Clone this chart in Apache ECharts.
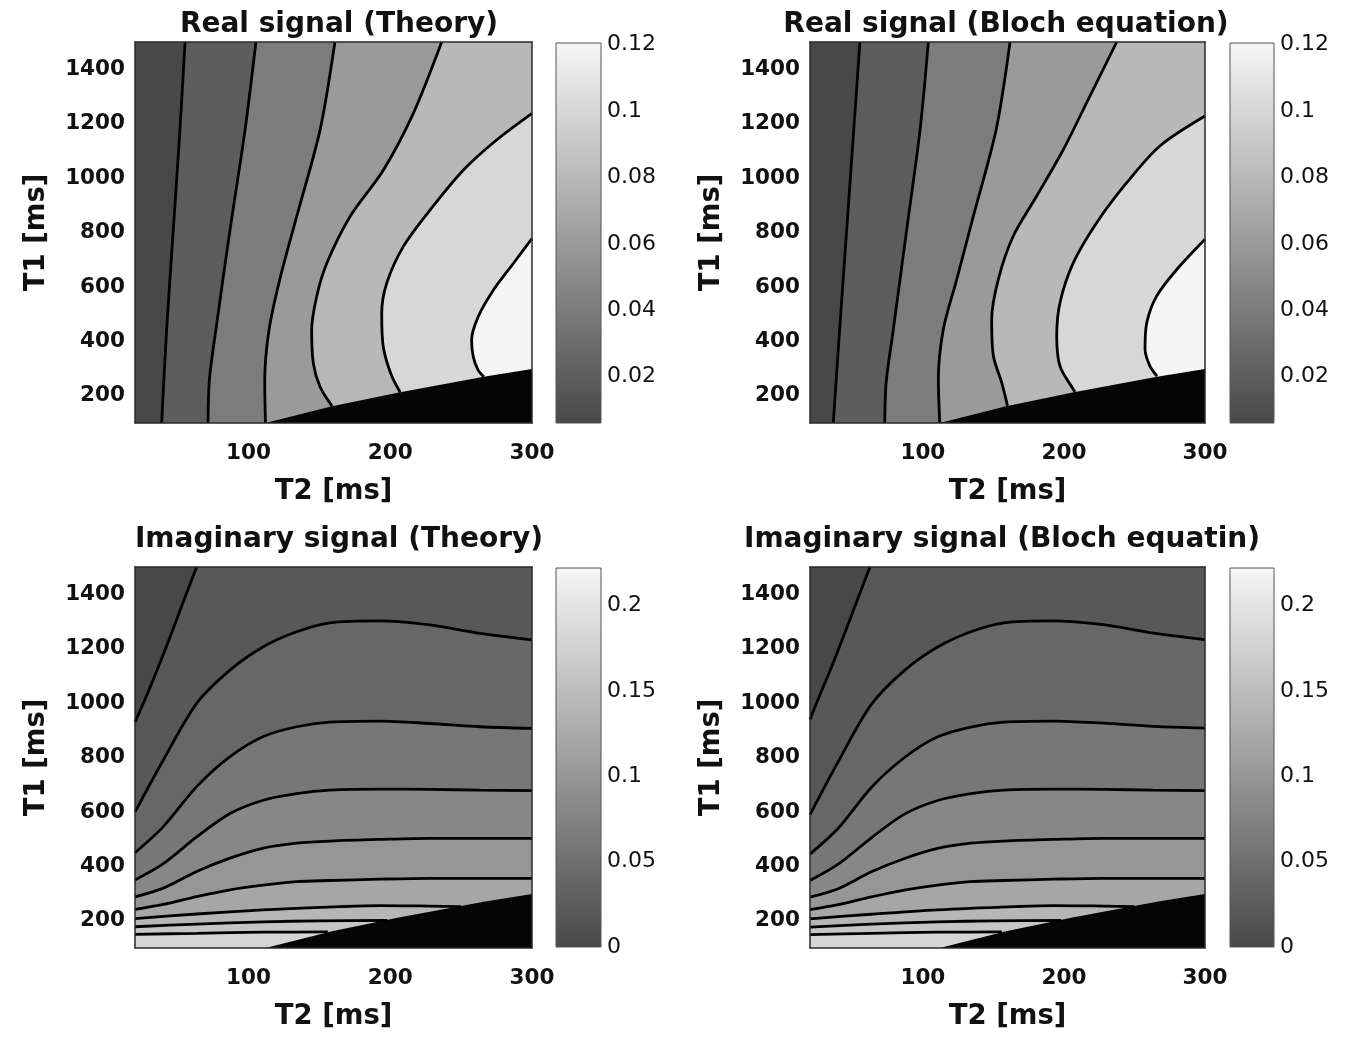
<!DOCTYPE html>
<html><head><meta charset="utf-8">
<script src="https://cdn.jsdelivr.net/npm/echarts@6/dist/echarts.min.js"></script>
<style>html,body{margin:0;padding:0;background:#fff}#c{width:1353px;height:1037px}</style>
</head><body><div id="c"></div>
<script>
// ---------- axes, ticks, colour bar ranges ----------
const t2Range = [20, 300];
const t1Range = [100, 1500];
const t2Ticks = [100, 200, 300];
const t1Ticks = [200, 400, 600, 800, 1000, 1200, 1400];
const realBarRange = [0.006, 0.1205];
const realBarTicks = [0.02, 0.04, 0.06, 0.08, 0.1, 0.12];
const realLevels = [0.02, 0.04, 0.06, 0.08, 0.1, 0.12];
const imagBarRange = [0, 0.222];
const imagBarTicks = [0, 0.05, 0.1, 0.15, 0.2];
const imagLevels = [0.02, 0.04, 0.06, 0.08, 0.1, 0.12, 0.14, 0.16, 0.18];
const panelTitles = ['Real signal (Theory)', 'Real signal (Bloch equation)', 'Imaginary signal (Theory)', 'Imaginary signal (Bloch equatin)'];

// region where T1 < T2 (drawn black), [T2, T1]
const invalidWedge = [[112,100],[159,162],[207,213],[267,271],[300,298],[300,100]];

// ---------- Real signal (Theory) contour lines, [T2, T1] ----------
const realTheoryC1 = [[55.3,1500],[51.7,1176],[47,809],[42.3,441],[38.8,100]];
const realTheoryC2 = [[105.3,1500],[97.6,1176],[87,809],[77,441],[72.5,260],[71.5,100]];
const realTheoryC3 = [[161,1500],[150.5,1176],[134,858],[122,625],[114.5,441],[111.5,257],[112,100]];
const realTheoryC4 = [[236.3,1500],[216.3,1238],[195.1,1029],[171.6,858],[155.2,686],[148.1,564],[144.6,441],[145.8,319],[150.5,233],[159,162]];
const realTheoryC5 = [[300,1238],[275,1140],[251.5,1029],[228,882],[209.2,748],[197.5,613],[194,502],[195.1,380],[200.5,280],[207,213]];
const realTheoryC6 = [[300,778],[286.8,686],[272.7,588],[262,490],[257.4,404],[258.6,343],[262,294],[266,270]];

// ---------- Real signal (Bloch equation) contour lines ----------
const realBlochC1 = [[55.4,1500],[51,1176],[46,809],[41,441],[36.5,100]];
const realBlochC2 = [[103.9,1500],[98,1176],[88.5,809],[79,441],[74,250],[73,100]];
const realBlochC3 = [[161.8,1500],[152,1179],[135.8,860],[124,627],[114.5,444],[111,260],[112,100]];
const realBlochC4 = [[237.4,1500],[218.5,1302],[199.6,1105],[180.7,934],[164.1,787],[153.5,628],[148.8,480],[150,346],[155.9,248],[160,163]];
const realBlochC5 = [[300,1228],[268,1118],[244.5,983],[223.2,836],[206.7,689],[197.2,542],[194.9,419],[197.2,309],[206.7,223],[208,214]];
const realBlochC6 = [[300,775],[280,664],[265.7,566],[258.7,468],[257.5,370],[261,309],[266,272]];

// ---------- Imaginary signal (Theory) contour lines ----------
const imagTheoryA = [[63.5,1500],[55,1385],[46,1260],[37,1140],[28,1025],[20,930]];
const imagTheoryB = [[20,600],[40,791],[63.5,999],[87,1121],[110.5,1207],[134,1262],[157.5,1295],[192.8,1302],[228,1287],[263.4,1256],[300,1232]];
const imagTheoryC = [[20,450],[40,546],[63.5,693],[87,803],[110.5,877],[134,913],[157.5,930],[192.8,934],[228,925],[263.4,913],[300,907]];
const imagTheoryD = [[20,350],[40,410],[63.5,508],[87,594],[110.5,643],[134,667],[157.5,680],[192.8,684],[228,683],[263.4,680],[300,678]];
const imagTheoryE = [[20,288],[40,320],[63.5,381],[87,430],[110.5,467],[134,485],[157.5,493],[192.8,499],[228,503],[300,503]];
const imagTheoryF = [[20,242],[40,260],[63.5,289],[87,314],[110.5,331],[134,344],[157.5,348],[192.8,353],[228,356],[300,356]];
const imagTheoryG = [[20,208],[63.5,225],[110.5,240],[165,252],[193,256],[228,254],[250,252]];
const imagTheoryH = [[20,178],[63.5,188],[110.5,196],[150,200],[198,201]];
const imagTheoryI = [[20,150],[63.5,154],[110.5,158],[156,159]];

// ---------- Imaginary signal (Bloch equation) contour lines ----------
const imagBlochA = [[62.5,1500],[54,1385],[45,1262],[36,1142],[27,1030],[20,940]];
const imagBlochB = [[20,590],[40,785],[63.5,995],[87,1120],[110.5,1206],[134,1262],[157.5,1295],[192.8,1302],[228,1288],[263.4,1257],[300,1233]];
const imagBlochC = [[20,445],[40,540],[63.5,690],[87,800],[110.5,876],[134,912],[157.5,930],[192.8,934],[228,926],[263.4,914],[300,908]];
const imagBlochD = [[20,348],[40,408],[63.5,505],[87,592],[110.5,642],[134,667],[157.5,680],[192.8,684],[228,683],[263.4,680],[300,678]];
const imagBlochE = [[20,287],[40,318],[63.5,380],[87,429],[110.5,466],[134,485],[157.5,493],[192.8,499],[228,503],[300,503]];
const imagBlochF = [[20,241],[40,259],[63.5,288],[87,313],[110.5,331],[134,344],[157.5,348],[192.8,353],[228,356],[300,356]];
const imagBlochG = [[20,207],[63.5,224],[110.5,240],[165,252],[193,256],[228,254],[250,252]];
const imagBlochH = [[20,177],[63.5,188],[110.5,196],[150,200],[198,201]];
const imagBlochI = [[20,149],[63.5,154],[110.5,158],[156,159]];

// ---------- styling helpers ----------
const FONT = 'DejaVu Sans';
function gray(v, r) {
  let t = (v - r[0]) / (r[1] - r[0]);
  t = Math.max(0, Math.min(1, t));
  const g = Math.round(72 + (246 - 72) * t);
  return 'rgb(' + g + ',' + g + ',' + g + ')';
}
const plotRect = [[t2Range[0], t1Range[0]], [t2Range[0], t1Range[1]], [t2Range[1], t1Range[1]], [t2Range[1], t1Range[0]]];

function realFills(lines) {
  const f = [{ pts: plotRect, color: gray(realBarRange[0], realBarRange) }];
  lines.forEach((c, k) => f.push({ pts: c.concat([[t2Range[1], t1Range[0]], [t2Range[1], t1Range[1]]]), color: gray(realLevels[k], realBarRange) }));
  f.push({ pts: invalidWedge, color: '#050505' });
  return f;
}
function imagFills(lines) {
  const f = [{ pts: plotRect, color: gray(imagLevels[0], imagBarRange) }];
  f.push({ pts: lines[0].concat([[t2Range[0], t1Range[1]]]), color: gray(imagBarRange[0], imagBarRange) });
  for (let k = 1; k < lines.length; k++) {
    f.push({ pts: lines[k].concat([[t2Range[1], t1Range[0]], [t2Range[0], t1Range[0]]]), color: gray(imagLevels[k], imagBarRange) });
  }
  f.push({ pts: invalidWedge, color: '#050505' });
  return f;
}

const panels = [
  { grid: { left: 135, top: 42, width: 397, height: 381 }, bar: { left: 556, top: 43, width: 45, height: 380 },
    titleX: 334, titleTop: 6, lines: [realTheoryC1, realTheoryC2, realTheoryC3, realTheoryC4, realTheoryC5, realTheoryC6],
    kind: 'real' },
  { grid: { left: 810, top: 42, width: 395, height: 381 }, bar: { left: 1230, top: 43, width: 44, height: 380 },
    titleX: 1001, titleTop: 6, lines: [realBlochC1, realBlochC2, realBlochC3, realBlochC4, realBlochC5, realBlochC6],
    kind: 'real' },
  { grid: { left: 135, top: 567, width: 397, height: 381 }, bar: { left: 556, top: 568, width: 45, height: 379 },
    titleX: 334, titleTop: 521, lines: [imagTheoryA, imagTheoryB, imagTheoryC, imagTheoryD, imagTheoryE, imagTheoryF, imagTheoryG, imagTheoryH, imagTheoryI],
    kind: 'imag' },
  { grid: { left: 810, top: 567, width: 395, height: 381 }, bar: { left: 1230, top: 568, width: 44, height: 379 },
    titleX: 997, titleTop: 521, lines: [imagBlochA, imagBlochB, imagBlochC, imagBlochD, imagBlochE, imagBlochF, imagBlochG, imagBlochH, imagBlochI],
    kind: 'imag' }
];

const option = { animation: false, backgroundColor: '#ffffff', title: [], grid: [], xAxis: [], yAxis: [], series: [] };
const frameLine = { show: true, onZero: false, lineStyle: { color: '#2a2a2a', width: 1.5 } };
const tickFont = { fontFamily: FONT, fontWeight: 'bold', fontSize: 21.5, color: '#111', formatter: v => String(v) };
const nameFont = { fontFamily: FONT, fontWeight: 'bold', fontSize: 27.5, color: '#111' };

panels.forEach((p, i) => {
  option.title.push({ text: panelTitles[i], left: p.titleX, top: p.titleTop, textAlign: 'center',
    textStyle: { fontFamily: FONT, fontWeight: 'bold', fontSize: 28, color: '#111' } });
  const gi = option.grid.length;
  option.grid.push(Object.assign({}, p.grid));
  option.grid.push(Object.assign({}, p.bar));
  const xi = option.xAxis.length, yi = option.yAxis.length;
  option.xAxis.push({ gridIndex: gi, type: 'value', min: t2Range[0], max: t2Range[1], position: 'bottom', z: 10,
    axisLine: frameLine, axisTick: { show: false }, splitLine: { show: false },
    axisLabel: Object.assign({ customValues: t2Ticks, margin: 19 }, tickFont),
    name: 'T2 [ms]', nameLocation: 'middle', nameGap: 55, nameTextStyle: nameFont });
  option.xAxis.push({ gridIndex: gi, type: 'value', min: t2Range[0], max: t2Range[1], position: 'top', z: 10,
    axisLine: frameLine, axisTick: { show: false }, splitLine: { show: false }, axisLabel: { show: false } });
  option.yAxis.push({ gridIndex: gi, type: 'value', min: t1Range[0], max: t1Range[1], position: 'left', z: 10,
    axisLine: frameLine, axisTick: { show: false }, splitLine: { show: false },
    axisLabel: Object.assign({ customValues: t1Ticks, margin: 10 }, tickFont),
    name: 'T1 [ms]', nameLocation: 'middle', nameGap: 84, nameTextStyle: nameFont });
  option.yAxis.push({ gridIndex: gi, type: 'value', min: t1Range[0], max: t1Range[1], position: 'right', z: 10,
    axisLine: frameLine, axisTick: { show: false }, splitLine: { show: false }, axisLabel: { show: false } });

  const barRange = p.kind === 'real' ? realBarRange : imagBarRange;
  const barTicks = p.kind === 'real' ? realBarTicks : imagBarTicks;
  const cbx = option.xAxis.length, cby = option.yAxis.length;
  option.xAxis.push({ gridIndex: gi + 1, type: 'value', min: 0, max: 1, show: false });
  option.yAxis.push({ gridIndex: gi + 1, type: 'value', min: barRange[0], max: barRange[1], position: 'right',
    axisLine: { show: false }, axisTick: { show: false }, splitLine: { show: false },
    axisLabel: { customValues: barTicks, margin: 6, fontFamily: FONT, fontSize: 22, color: '#111',
      formatter: v => String(+(+v).toFixed(3)) } });

  const fills = p.kind === 'real' ? realFills(p.lines) : imagFills(p.lines);
  option.series.push({ type: 'custom', xAxisIndex: xi, yAxisIndex: yi, clip: true, silent: true, z: 1,
    data: fills.map(f => f.pts[0]),
    renderItem: (params, api) => {
      const f = fills[params.dataIndex];
      return { type: 'polygon', shape: { points: f.pts.map(q => api.coord(q)) }, style: { fill: f.color } };
    } });
  p.lines.forEach(c => option.series.push({ type: 'line', xAxisIndex: xi, yAxisIndex: yi, data: c, smooth: 0.3,
    symbol: 'none', silent: true, z: 3, lineStyle: { color: '#000', width: 2.8 } }));
  option.series.push({ type: 'custom', xAxisIndex: cbx, yAxisIndex: cby, silent: true, z: 2,
    data: [[0, barRange[0]]],
    renderItem: (params, api) => {
      const a = api.coord([0, barRange[1]]), b = api.coord([1, barRange[0]]);
      return { type: 'rect', shape: { x: a[0], y: a[1], width: b[0] - a[0], height: b[1] - a[1] },
        style: { fill: new echarts.graphic.LinearGradient(0, 0, 0, 1, [
          { offset: 0, color: gray(barRange[1], barRange) }, { offset: 1, color: gray(barRange[0], barRange) }]),
          stroke: '#555', lineWidth: 1 } };
    } });
});

const chart = echarts.init(document.getElementById('c'), null, { renderer: 'canvas' });
chart.setOption(option);
</script></body></html>
